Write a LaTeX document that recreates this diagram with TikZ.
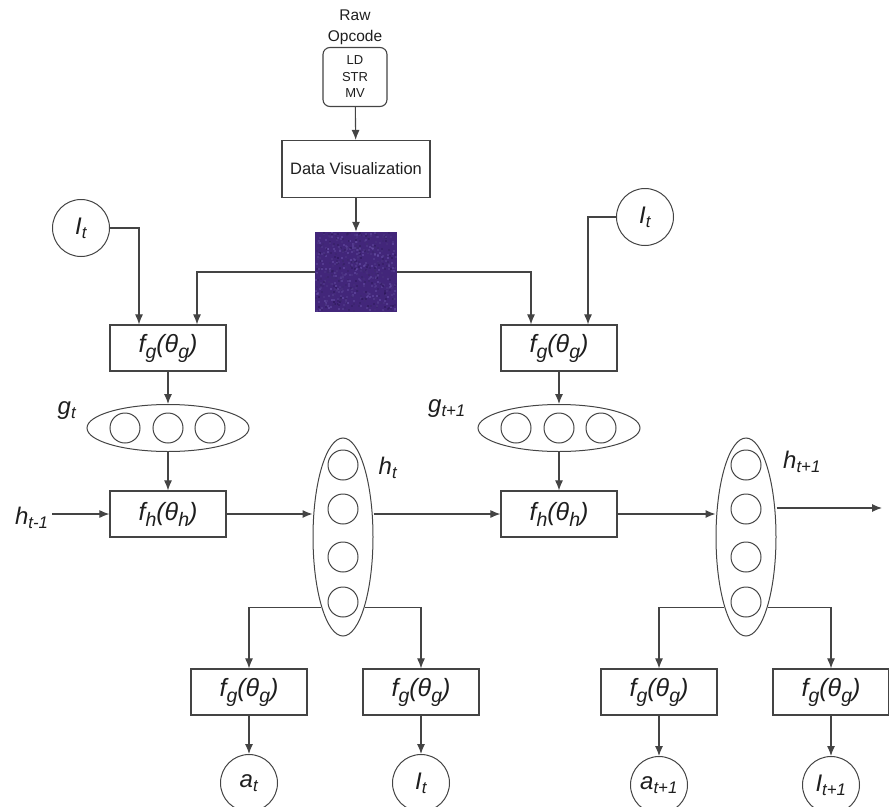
\documentclass[tikz,border=0pt]{standalone}
\usepackage{fontspec}
\setmainfont{Liberation Sans}
\usetikzlibrary{arrows.meta,positioning,shapes.geometric}
\definecolor{edge}{HTML}{444444}
\definecolor{ink}{HTML}{1E1E1E}
\definecolor{opbase}{RGB}{66,38,122}
\definecolor{speckA}{RGB}{112,88,178}
\definecolor{speckB}{RGB}{40,20,82}

\tikzset{
  fbox/.style={draw=edge, line width=1.2pt, minimum width=116pt, minimum height=46pt,
    inner sep=0pt, text=ink, font=\fontsize{25}{28}\selectfont\itshape},
  unit/.style={circle, draw=edge, line width=1pt, minimum size=30pt, inner sep=0pt},
  var/.style={circle, draw=edge, line width=1pt, minimum size=57pt, inner sep=0pt,
    text=ink, font=\fontsize{24}{27}\selectfont\itshape},
  layer/.style={ellipse, draw=edge, line width=1pt, inner sep=0pt},
  lbl/.style={text=ink, font=\fontsize{24}{27}\selectfont\itshape},
  link/.style={draw=edge, line width=1.1pt, -{Latex[length=10pt,width=8pt]}},
}
% lowered index, a little larger than \textsubscript
\newcommand{\dn}[1]{\raisebox{-0.45ex}{\scalebox{0.78}{#1}}}
\newcommand{\fg}{f\dn{g}(θ\dn{g})}
\newcommand{\fh}{f\dn{h}(θ\dn{h})}

\begin{document}
\begin{tikzpicture}[x=1pt, y=-1pt]
  \useasboundingbox (0,0) rectangle (889,806);

  % --- opcode input and image ---
  \node[text=ink, align=center, font=\fontsize{15.5}{21}\selectfont] (raw) at (355,27) {Raw\\Opcode};
  \node[draw=edge, line width=1.1pt, rounded corners=7pt, minimum width=64pt, minimum height=59pt,
    inner sep=0pt, align=center, text=ink, font=\fontsize{13}{16.5}\selectfont] (ops) at (355,77) {LD\\STR\\MV};
  \node[draw=edge, line width=1.1pt, minimum width=148pt, minimum height=57pt, text=ink,
    font=\fontsize{16.5}{19}\selectfont] (viz) at (356,169) {Data Visualization};
  \node[fill=opbase, minimum width=82pt, minimum height=80pt, inner sep=0pt] (img) at (356,272) {};
  % speckles on the opcode image
  \pgfmathsetseed{11}
  \foreach \k in {1,...,600} {
    \pgfmathsetmacro{\sx}{315+rnd*80}
    \pgfmathsetmacro{\sy}{232+rnd*78}
    \pgfmathtruncatemacro{\tone}{rnd*100}
    \fill[speckA!\tone!speckB, opacity=0.5] (\sx,\sy) rectangle ++(2,2);
  }
  \draw[link] (ops) -- (viz);
  \draw[link] (viz) -- (img);

  % --- step t ---
  \node[var] (it1) at (81,228) {I\textsubscript{t}};
  \node[fbox] (fg1) at (168,348) {\fg};
  \node[layer, minimum width=162pt, minimum height=47pt] (g1) at (168,428) {};
  \foreach \x/\i in {125/1, 168/2, 210/3} {
    \node[unit] (g1u\i) at (\x,428) {};
  }
  \node[lbl] (g1lbl) at (67,411) {g\textsubscript{t}};
  \node[fbox] (fh1) at (168,514) {\fh};
  \node[lbl, anchor=east] (hin) at (52,518) {h\textsubscript{t-1}};
  \node[layer, minimum width=60pt, minimum height=198pt] (h1) at (343,537) {};
  \foreach \y/\i in {465/1, 509/2, 557/3, 602/4} {
    \node[unit] (h1u\i) at (343,\y) {};
  }
  \node[lbl] (h1lbl) at (388,468) {h\textsubscript{t}};

  \draw[link] (it1.east) -| ([xshift=-29pt]fg1.north);
  \draw[link] (img.west) -| ([xshift=29pt]fg1.north);
  \draw[link] (fg1) -- (g1);
  \draw[link] (g1) -- (fh1);
  \draw[link] (fh1.west -| hin.east) -- (fh1.west);
  \draw[link] (fh1.east) -- (fh1.east -| h1.west);

  % outputs of step t
  \node[fbox] (fa1) at (249,692) {\fg};
  \node[fbox] (fl1) at (421,692) {\fg};
  \node[var] (a1) at (249,783) {a\textsubscript{t}};
  \node[var] (l1) at (421,783) {I\textsubscript{t}};
  \draw[link] (h1.253) -| (fa1.north);
  \draw[link] (h1.287) -| (fl1.north);
  \draw[link] (fa1) -- (a1);
  \draw[link] (fl1) -- (l1);

  % --- step t+1 ---
  \node[var] (it2) at (645,217) {I\textsubscript{t}};
  \node[fbox] (fg2) at (559,348) {\fg};
  \node[layer, minimum width=162pt, minimum height=47pt] (g2) at (559,428) {};
  \foreach \x/\i in {516/1, 559/2, 601/3} {
    \node[unit] (g2u\i) at (\x,428) {};
  }
  \node[lbl] (g2lbl) at (447,409) {g\textsubscript{t+1}};
  \node[fbox] (fh2) at (559,514) {\fh};
  \node[layer, minimum width=60pt, minimum height=198pt] (h2) at (746,537) {};
  \foreach \y/\i in {465/1, 509/2, 557/3, 602/4} {
    \node[unit] (h2u\i) at (746,\y) {};
  }
  \node[lbl] (h2lbl) at (802,462) {h\textsubscript{t+1}};
  \coordinate (hout) at (882,508);

  \draw[link] (it2.west) -| ([xshift=29pt]fg2.north);
  \draw[link] (img.east) -| ([xshift=-28pt]fg2.north);
  \draw[link] (fg2) -- (g2);
  \draw[link] (g2) -- (fh2);
  \draw[link] (fh2.west -| h1.east) -- (fh2.west);
  \draw[link] (fh2.east) -- (fh2.east -| h2.west);
  \draw[link] (hout -| h2.east) -- (hout);

  % outputs of step t+1
  \node[fbox] (fa2) at (659,692) {\fg};
  \node[fbox] (fl2) at (831,692) {\fg};
  \node[var] (a2) at (659,785) {a\textsubscript{t+1}};
  \node[var] (l2) at (831,785) {I\textsubscript{t+1}};
  \draw[link] (h2.253) -| (fa2.north);
  \draw[link] (h2.287) -| (fl2.north);
  \draw[link] (fa2) -- (a2);
  \draw[link] (fl2) -- (l2);
\end{tikzpicture}
\end{document}
